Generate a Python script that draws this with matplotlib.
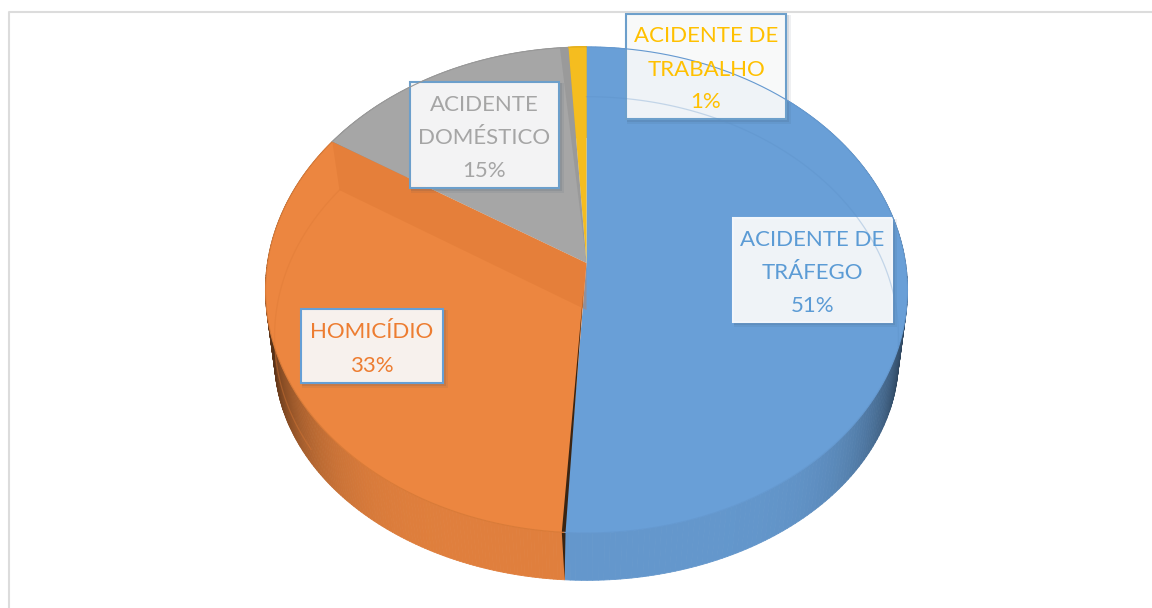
import numpy as np
import matplotlib
matplotlib.use('Agg')
import matplotlib.pyplot as plt
from matplotlib.collections import PolyCollection
from matplotlib.patches import Rectangle

plt.rcParams['font.family'] = ['Lato', 'DejaVu Sans']

# data
labels = ['ACIDENTE DE\nTRÁFEGO', 'HOMICÍDIO', 'ACIDENTE\nDOMÉSTICO', 'ACIDENTE DE\nTRABALHO']
shares = [51, 33, 15, 1]

# styles
top_colors = ['#699fd7', '#ec8640', '#a6a6a6', '#f5bd1f']
edge_colors = ['#6599d0', '#d97b38', '#989898', '#e6b01a']
text_colors = ['#5b9bd5', '#ed7d31', '#a5a5a5', '#ffc000']
# x0, y0, x1, y1 of each label box, border colour
boxes = [(733, 218, 892, 322, '#f2f6fb'),
         (301, 309, 443, 383, '#659fd6'),
         (410, 82, 559, 188, '#6c9fcb'),
         (626, 14, 786, 119, '#6c9fcb')]

CX = 586.5
K = 0.111  # perspective of the disc


def project(theta, rx, ry, y0):
    # angle on the disc (radians) -> point on the drawn ellipse
    u, v = np.cos(theta), np.sin(theta)
    w = 1 + K * v
    return CX + rx * u / w, y0 - ry * v / w


def top(theta):
    return project(theta, 319, 240, 263)


def bottom(theta):
    return project(theta, 310, 219, 334)


def inner(theta):
    return project(theta, 310, 237, 310)


def shade(color, f):
    return tuple(c * f for c in matplotlib.colors.to_rgb(color))


def side_factor(theta):
    return 0.95 - 0.6 * abs(np.cos(theta)) ** 6


fig = plt.figure(figsize=(11.52, 6.08), dpi=100)
ax = fig.add_axes([0, 0, 1, 1])
ax.set_xlim(0, 1152)
ax.set_ylim(608, 0)
ax.axis('off')

# chart frame
ax.plot([9, 9, 1152], [608, 12, 12], color='#dcdcdc', lw=1.5)

# slice angles, clockwise from 12 o'clock
edges = np.pi / 2 - 2 * np.pi * np.cumsum([0] + shares) / sum(shares)

# side wall of the disc
for i in range(len(shares)):
    t = np.linspace(edges[i], edges[i + 1], 200)
    polys = []
    cols = []
    for a, b in zip(t[:-1], t[1:]):
        xa, ya = top(a)
        xb, yb = top(b)
        xc, yc = bottom(b)
        xd, yd = bottom(a)
        polys.append([(xa, ya), (xb, yb), (xc, yc), (xd, yd)])
        cols.append(shade(top_colors[i], side_factor((a + b) / 2)))
    ax.add_collection(PolyCollection(polys, facecolors=cols, edgecolors=cols, linewidths=0.6))

# top face
for i in range(len(shares)):
    t = np.linspace(edges[i], edges[i + 1], 300)
    x, y = top(t)
    ax.fill(np.r_[CX, x], np.r_[263, y], color=top_colors[i], lw=0)
    ax.plot(x, y, color=edge_colors[i], lw=0.8)

# darker strip of the grey slice next to the yellow one
a = edges[3]
xa, ya = top(a)
xb, yb = top(a + 0.03)
ax.fill([CX, xa, xb], [263, ya, yb], color='#8f8f8f', alpha=0.5, lw=0)

# see-through back wall of the orange slice
a = edges[2]
xr, yr = top(a)
xi, yi = inner(a)
ax.fill([CX, xr, xi, CX], [263, yr, yi, 310], color='#d9742f', alpha=0.35, lw=0)

t = np.linspace(edges[2], edges[2] + 1.15, 80)
x, y = inner(t)
ax.plot(x, y, color='#dd7a36', lw=0.9, alpha=0.4)
t = np.linspace(np.pi / 2, -0.15, 120)
x, y = inner(t)
ax.plot(x, y, color='#5b8fc6', lw=0.9, alpha=0.3)

# dark cut between blue and orange
a = edges[1]
xa, ya = top(a + np.radians(0.25))
xb, yb = top(a - np.radians(0.35))
ax.fill([CX - 3, xa, xb], [290, ya, yb], color='#3a2412', lw=0)
xc, yc = bottom(a)
ax.fill([xa, xb, xc], [ya, yb, yc], color='#3a2412', lw=0)

# label boxes and text
for i in range(len(shares)):
    x0, y0, x1, y1, bc = boxes[i]
    for g, al in zip([7, 5, 3], [0.08, 0.12, 0.16]):
        ax.add_patch(Rectangle((x0 + 1, y0 + 1), x1 - x0 + g - 3, y1 - y0 + g - 3,
                               fc='#33475b', ec='none', alpha=al))
    ax.add_patch(Rectangle((x0, y0), x1 - x0, y1 - y0, fc='white', ec='none', alpha=0.91))
    ax.add_patch(Rectangle((x0, y0), x1 - x0, y1 - y0, fc='none', ec=bc, lw=1.5))
    lines = labels[i].split('\n') + ['%d%%' % shares[i]]
    xm = (x0 + x1) / 2
    ym = (y0 + y1) / 2
    for n, line in enumerate(lines):
        ax.text(xm, ym + (n - (len(lines) - 1) / 2) * 33 + 9, line, color=text_colors[i],
                fontsize=16, ha='center', va='baseline')

fig.savefig('out.png', dpi=100)
